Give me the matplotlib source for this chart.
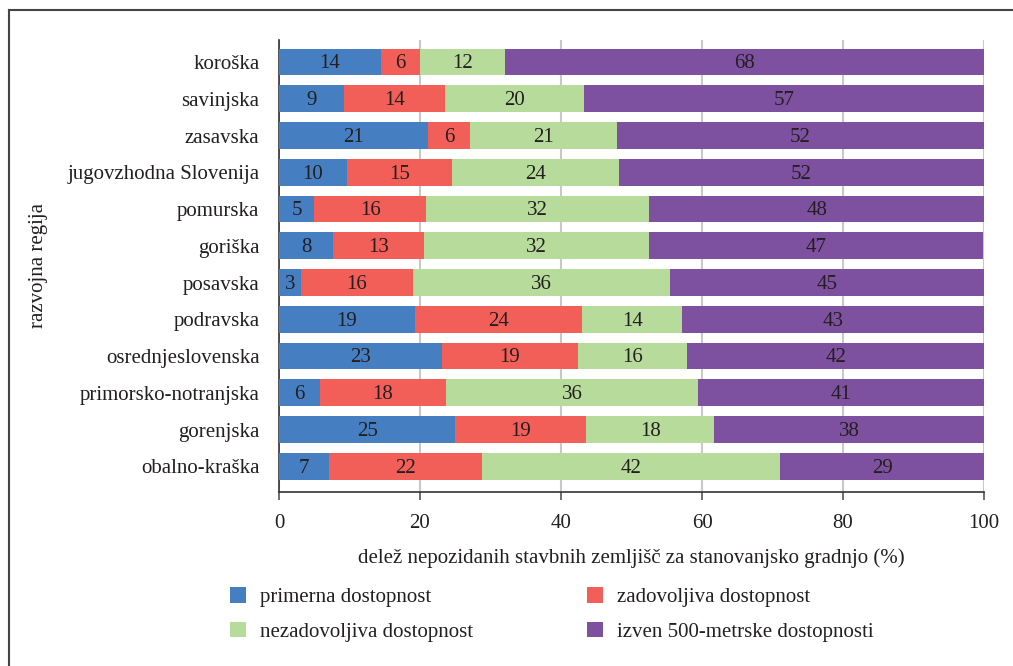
import matplotlib
matplotlib.use("Agg")
import matplotlib.pyplot as plt
from matplotlib.patches import Patch
from matplotlib.lines import Line2D

plt.rcParams['font.family'] = ['Liberation Serif', 'DejaVu Serif']

regions = ["koroška", "savinjska", "zasavska", "jugovzhodna Slovenija", "pomurska",
           "goriška", "posavska", "podravska", "osrednjeslovenska",
           "primorsko-notranjska", "gorenjska", "obalno-kraška"]
primerna = [14.4, 9.2, 21.1, 9.6, 5.0, 7.7, 3.1, 19.3, 23.1, 5.8, 25.0, 7.1]
zadovoljiva = [5.6, 14.4, 6.0, 14.9, 15.9, 12.9, 15.9, 23.7, 19.3, 17.9, 18.6, 21.7]
nezadovoljiva = [12.1, 19.7, 20.8, 23.7, 31.6, 31.9, 36.4, 14.2, 15.5, 35.7, 18.1, 42.3]
izven = [67.9, 56.7, 52.1, 51.8, 47.6, 47.4, 44.6, 42.8, 42.1, 40.6, 38.3, 28.9]

series_names = ["primerna dostopnost", "zadovoljiva dostopnost",
                "nezadovoljiva dostopnost", "izven 500-metrske dostopnosti"]
colors = ["#457EC1", "#F15F58", "#B7DB9B", "#7E50A0"]
xticks = [0, 20, 40, 60, 80, 100]

FS = 15
text_color = "#231F20"
W, H = 1013, 666
fig = plt.figure(figsize=(W / 100, H / 100), dpi=100)
ax = fig.add_axes([279 / W, (H - 492) / H, (984 - 279) / W, (492 - 40) / H])

n = len(regions)
ypos = [n - 1 - i for i in range(n)]
left = [0.0] * n
for vals, col in zip([primerna, zadovoljiva, nezadovoljiva, izven], colors):
    ax.barh(ypos, vals, left=left, height=0.73, color=col, zorder=3)
    for y, v, l in zip(ypos, vals, left):
        ax.text(l + v / 2, y - 0.05, f"{round(v)}", ha="center", va="center",
                fontsize=FS, color=text_color, zorder=4)
    left = [a + b for a, b in zip(left, vals)]

ax.set_xlim(0, 100)
ax.set_ylim(-0.7, n - 0.4)
ax.set_xticks(xticks)
ax.set_yticks(ypos)
ax.set_yticklabels(regions)
ax.xaxis.grid(True, color="#C8C8C8", linewidth=1.5, zorder=0)
ax.set_axisbelow(True)
for s in ["top", "right"]:
    ax.spines[s].set_visible(False)
for s in ["left", "bottom"]:
    ax.spines[s].set_color("#333333")
    ax.spines[s].set_linewidth(1.2)
ax.tick_params(axis="y", length=0, pad=14, labelsize=FS, labelcolor=text_color)
ax.tick_params(axis="x", length=6, width=1.2, color="#555555", pad=10,
               labelsize=FS, labelcolor=text_color)
ax.set_xlabel("delež nepozidanih stavbnih zemljišč za stanovanjsko gradnjo (%)",
              fontsize=FS, color=text_color, labelpad=11)

fig.text(38 / W, 1 - 266 / H, "razvojna regija", rotation=90, ha="center",
         va="center", fontsize=FS, color=text_color)

handles = [Patch(facecolor=c, edgecolor="none") for c in colors]
order = [0, 2, 1, 3]
fig.legend([handles[i] for i in order], [series_names[i] for i in order],
           ncol=2, loc="upper left", bbox_to_anchor=(230 / W, 1 - 587 / H),
           frameon=False, fontsize=FS, handlelength=0.77, handleheight=0.77,
           handletextpad=0.67, columnspacing=5.45, labelspacing=0.7,
           borderpad=0, borderaxespad=0, labelcolor=text_color)

# frame (top and left border)
fig.add_artist(Line2D([8.5 / W, 8.5 / W], [0, 1 - 10 / H], transform=fig.transFigure,
                      color="#444444", linewidth=1.5))
fig.add_artist(Line2D([8.5 / W, 1], [1 - 10 / H, 1 - 10 / H], transform=fig.transFigure,
                      color="#444444", linewidth=1.5))

fig.savefig("out.png", dpi=100, facecolor="white")
